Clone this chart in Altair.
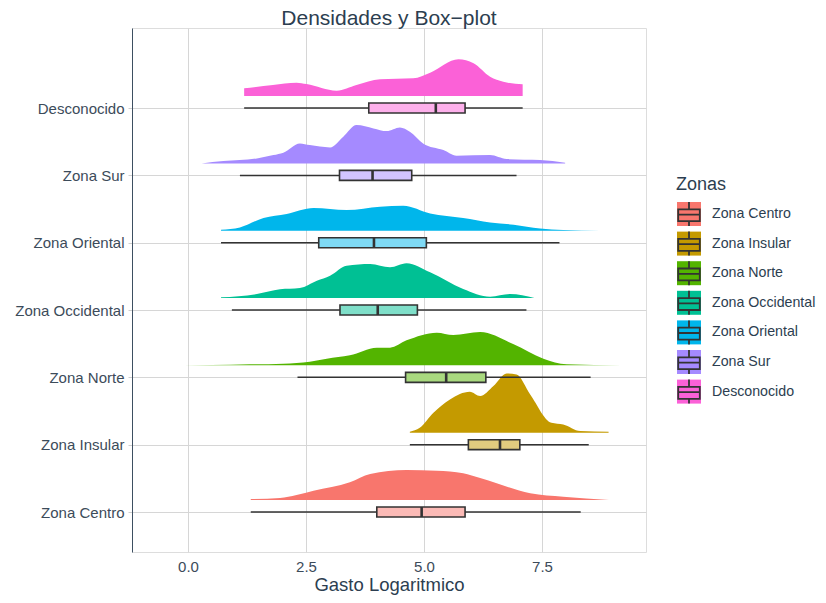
import altair as alt
import pandas as pd

FONT = "Liberation Sans"
DARK = "#2c3e50"

# ---------------- data ----------------
zonas = ["Zona Centro", "Zona Insular", "Zona Norte", "Zona Occidental",
         "Zona Oriental", "Zona Sur", "Desconocido"]
colores = ["#F8766D", "#C49A00", "#53B400", "#00C094", "#00B6EB", "#A58AFF", "#FB61D7"]
colores_caja = ["#FBBAB6", "#E1CC7F", "#A9D97F", "#7FDFC9", "#7FDAF5", "#D2C4FF", "#FDB0EB"]

# box-plot statistics (Gasto logaritmico)
bx_min = [1.33, 4.70, 2.32, 0.93, 0.70, 1.10, 1.19]
bx_q1 = [4.00, 5.94, 4.61, 3.22, 2.77, 3.21, 3.83]
bx_med = [4.95, 6.61, 5.47, 4.02, 3.94, 3.91, 5.25]
bx_q3 = [5.87, 7.03, 6.31, 4.86, 5.05, 4.74, 5.87]
bx_max = [8.32, 8.49, 8.53, 7.17, 7.87, 6.96, 7.09]

# density curves (x, relative height)
centro_x = [1.33, 1.95, 2.30, 2.66, 3.43, 3.86, 4.63, 5.27, 5.83, 6.19, 6.54, 7.25, 7.95, 8.92]
centro_h = [1.0, 2.0, 5.0, 9.3, 17.7, 26.0, 30.0, 29.3, 26.7, 22.0, 16.7, 6.7, 3.3, 0.0]
insular_x = [4.70, 4.91, 5.20, 5.55, 5.97, 6.19, 6.47, 6.75, 6.96, 7.25, 7.70, 7.95, 8.31, 8.91]
insular_h = [1.0, 5.0, 20.0, 33.3, 41.0, 36.7, 46.7, 59.3, 58.3, 38.3, 10.0, 8.3, 1.7, 1.0]
norte_x = [-0.70, 0.50, 1.31, 2.02, 2.58, 2.94, 3.43, 4.00, 4.28, 4.63, 5.27, 5.62, 6.19, 6.90, 7.53, 8.02, 9.19]
norte_h = [0.0, 0.3, 1.0, 1.7, 3.7, 6.7, 10.0, 17.7, 17.7, 25.0, 32.7, 30.3, 33.3, 21.0, 6.7, 1.0, 0.0]
occid_x = [0.70, 1.46, 1.95, 2.37, 2.73, 3.01, 3.36, 3.86, 4.28, 4.63, 5.13, 5.83, 6.40, 6.82, 7.34]
occid_h = [0.7, 4.0, 8.7, 10.0, 17.3, 22.3, 32.3, 34.0, 30.7, 34.7, 25.7, 9.0, 1.3, 4.0, 0.0]
orient_x = [0.70, 1.10, 1.60, 2.09, 2.66, 3.36, 4.07, 4.56, 5.13, 5.83, 6.40, 6.90, 7.46, 7.95, 8.73]
orient_h = [1.0, 3.3, 12.7, 16.7, 22.7, 20.7, 24.0, 25.0, 17.3, 12.7, 8.3, 6.0, 2.3, 0.7, 0.0]
sur_x = [0.29, 0.75, 1.46, 1.81, 2.02, 2.37, 2.58, 3.01, 3.29, 3.57, 3.93, 4.21, 4.49, 4.70,
         4.98, 5.41, 5.69, 6.40, 6.75, 7.46, 7.99]
sur_h = [0.0, 2.3, 5.0, 8.3, 10.7, 20.0, 18.3, 16.0, 26.7, 38.3, 35.0, 32.3, 36.0, 31.7,
         20.0, 13.3, 7.7, 8.3, 4.3, 3.3, 0.7]
desc_x = [1.19, 1.80, 2.30, 2.51, 3.15, 3.57, 4.07, 4.77, 5.13, 5.73, 6.05, 6.40, 6.68, 7.09]
desc_h = [7.7, 11.0, 13.3, 12.0, 5.3, 11.0, 16.7, 17.7, 23.3, 36.7, 32.7, 19.3, 14.3, 11.7]

dens_x = [centro_x, insular_x, norte_x, occid_x, orient_x, sur_x, desc_x]
dens_h = [centro_h, insular_h, norte_h, occid_h, orient_h, sur_h, desc_h]

# ---------------- tables ----------------
rows = []
for i, z in enumerate(zonas):
    for xv, hv in zip(dens_x[i], dens_h[i]):
        rows.append({"zona": z, "idx": i + 1, "x": xv, "h": hv})
dens = pd.DataFrame(rows)

box = pd.DataFrame({
    "zona": zonas,
    "zona_b": [z + " " for z in zonas],
    "idx": list(range(1, len(zonas) + 1)),
    "mn": bx_min, "q1": bx_q1, "med": bx_med, "q3": bx_q3, "mx": bx_max,
})
leg_df = pd.DataFrame({"zona": zonas})
leg_title_df = pd.DataFrame({"t": ["Zonas"]})

ROW_PX = 67.33      # pixels per category step
BASE_OFF = 0.178    # density baseline above category line
HALF = 0.074        # half box height

xscale = alt.Scale(domain=[-1.186, 9.703], nice=False, zero=False)
yscale = alt.Scale(domain=[0.406, 8.189], nice=False, zero=False)

label_expr = " : ".join(
    [f"datum.value == {i + 1} ? '{z}'" for i, z in enumerate(zonas)]) + " : ''"

x_axis = alt.Axis(values=[0, 2.5, 5, 7.5], format=".1f", title="Gasto Logaritmico",
                  grid=True, gridColor="#d6d6d6", ticks=False, domain=False,
                  labelFont=FONT, labelFontSize=15, labelColor="#3c4b5a", labelPadding=7,
                  titleFont=FONT, titleFontSize=18.5, titleFontWeight="normal",
                  titleColor=DARK, titlePadding=1)
y_axis = alt.Axis(values=list(range(1, 8)), labelExpr=label_expr, title=None,
                  grid=True, gridColor="#d6d6d6", ticks=True, tickSize=4, tickColor="#cfcfcf",
                  domain=True, domainColor="#3d4f61",
                  labelFont=FONT, labelFontSize=15, labelColor="#3c4b5a", labelPadding=4)

# ---------------- main layers ----------------
areas = alt.Chart(dens).mark_area(opacity=1, orient="vertical", interpolate="monotone").transform_calculate(
    y0=f"datum.idx + {BASE_OFF}",
    y1=f"datum.idx + {BASE_OFF} + datum.h / {ROW_PX}",
).encode(
    x=alt.X("x:Q", scale=xscale, axis=x_axis),
    y=alt.Y("y1:Q", scale=yscale, axis=y_axis),
    y2="y0:Q",
    fill=alt.Fill("zona:N", scale=alt.Scale(domain=zonas, range=colores), legend=None),
    detail="zona:N",
)

whisk = alt.Chart(box).mark_rule(color="#333333", strokeWidth=1.5).encode(
    x=alt.X("mn:Q", scale=xscale),
    x2="mx:Q",
    y=alt.Y("idx:Q", scale=yscale),
)

box_base = alt.Chart(box).transform_calculate(
    lo=f"datum.idx - {HALF}", hi=f"datum.idx + {HALF}")

boxes = box_base.mark_rect(stroke="#333333", strokeWidth=1.6).encode(
    x=alt.X("q1:Q", scale=xscale),
    x2="q3:Q",
    y=alt.Y("lo:Q", scale=yscale),
    y2="hi:Q",
    fill=alt.Fill("zona_b:N", scale=alt.Scale(domain=[z + " " for z in zonas], range=colores_caja),
                  legend=None),
)

medians = box_base.mark_rule(color="#333333", strokeWidth=2.6).encode(
    x=alt.X("med:Q", scale=xscale),
    y=alt.Y("lo:Q", scale=yscale),
    y2="hi:Q",
)

main = alt.layer(areas, whisk, boxes, medians).resolve_scale(fill="independent")

# ---------------- legend (drawn from the zone list) ----------------
n = len(zonas)
leg_y = alt.Y("zona:N", scale=alt.Scale(domain=zonas, range=[186, 186 + 29.6 * (n - 1)], padding=0),
              axis=None)
glyph = "M-0.9,-0.39H0.9V0.6H-0.9Z M-0.9,0.05H0.9 M0,-1V-0.39 M0,0.6V1"

leg_sq = alt.Chart(leg_df).mark_square(size=576, opacity=1).encode(
    x=alt.value(557), y=leg_y,
    fill=alt.Fill("zona:N", scale=alt.Scale(domain=zonas, range=colores), legend=None),
)
leg_glyph = alt.Chart(leg_df).mark_point(shape=glyph, size=576, filled=False, opacity=1,
                                         stroke="#333333", strokeWidth=1.8).encode(
    x=alt.value(557), y=leg_y,
)
leg_text = alt.Chart(leg_df).mark_text(align="left", baseline="middle", font=FONT, fontSize=14.2,
                                       color=DARK).encode(
    x=alt.value(580), y=leg_y, text="zona:N",
)
leg_title = alt.Chart(leg_title_df).mark_text(align="left", baseline="middle", font=FONT,
                                              fontSize=18, color=DARK).encode(
    x=alt.value(544), y=alt.value(157), text="t:N",
)
legend = alt.layer(leg_sq, leg_glyph, leg_text, leg_title)

chart = alt.layer(main, legend).resolve_scale(
    y="independent", fill="independent"
).properties(
    width=514, height=524,
    padding={"left": 124, "top": 20, "right": 172, "bottom": 43},
    autosize=alt.AutoSizeParams(type="none"),
    title=alt.TitleParams("Densidades y Box\u2212plot", font=FONT, fontSize=21,
                          fontWeight="normal", color=DARK, anchor="middle", offset=6, dy=7),
).configure_view(
    stroke="#6f7d8b", strokeWidth=1
).configure(background="white")

chart.save("out.html", embed_options={"renderer": "svg", "actions": False})
